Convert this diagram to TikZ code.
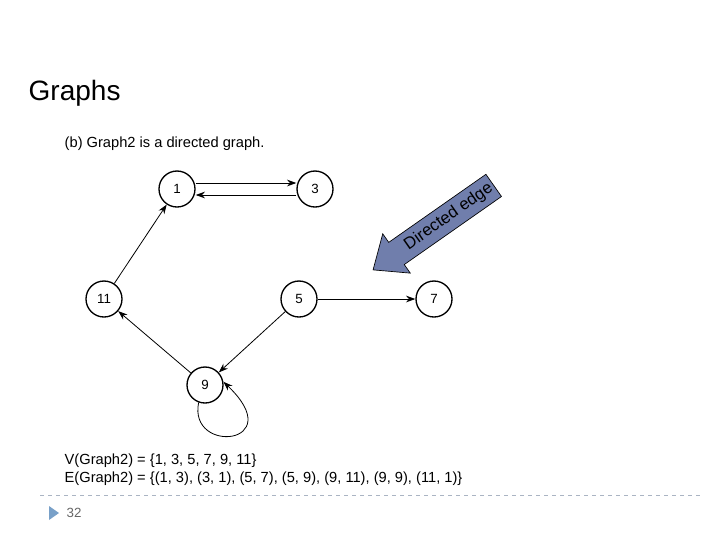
\documentclass[tikz,border=0pt]{standalone}
\usepackage{fontspec}
\setmainfont{Liberation Sans}
\usetikzlibrary{shapes.arrows,arrows.meta}
\begin{document}
\begin{tikzpicture}[x=0.75pt,y=-0.75pt,
  vtx/.style={circle,draw,line width=1pt,minimum size=27pt,inner sep=0pt,font=\fontsize{10}{12}\selectfont},
  edge/.style={-{Stealth[length=7pt,width=5pt]},line width=0.6pt},
  txt/.style={anchor=west,font=\fontsize{11}{13}\selectfont}]
\useasboundingbox (0,0) rectangle (720,540);
\node[anchor=west,font=\fontsize{21}{25}\selectfont] (title) at (24,93) {Graphs};
\node[txt] (cap) at (60,144) {(b) Graph2 is a directed graph.};
\node[vtx] (n1) at (177,189) {1};
\node[vtx] (n3) at (315,189) {3};
\node[vtx] (n11) at (104,299) {11};
\node[vtx] (n5) at (299,299) {5};
\node[vtx] (n7) at (434,299) {7};
\node[vtx] (n9) at (205,385) {9};
\draw[edge] ([yshift=4.5pt]n1.east) -- ([yshift=4.5pt]n3.west);
\draw[edge] ([yshift=-4.5pt]n3.west) -- ([yshift=-4.5pt]n1.east);
\draw[edge] (n11) -- (n1);
\draw[edge] (n5) -- (n7);
\draw[edge] (n5) -- (n9);
\draw[edge] (n9) -- (n11);
\draw[edge] (n9.250) .. controls (188,455) and (290,445) .. (n9.10);
\node[single arrow,draw=black,fill={rgb,255:red,112;green,126;blue,172},line width=0.5pt,
  shape border rotate=180,rotate=35,minimum height=106pt,minimum width=36pt,
  single arrow head extend=7pt,single arrow tip angle=80,inner xsep=2pt,inner ysep=3pt,
  font=\fontsize{12.5}{15}\selectfont] (da) at (440,223) {\hspace{16pt}Directed edge};
\node[txt] (v) at (60,461) {V(Graph2) = \{1, 3, 5, 7, 9, 11\}};
\node[txt] (e) at (60,479) {E(Graph2) = \{(1, 3), (3, 1), (5, 7), (5, 9), (9, 11), (9, 9), (11, 1)\}};
\draw[dashed,color={rgb,255:red,170;green,180;blue,195},line width=0.6pt] (40,495) -- (700,495);
\fill[color={rgb,255:red,120;green,160;blue,200}] (49,506) -- (59,513) -- (49,520) -- cycle;
\node[anchor=west,text=gray!80!black,font=\fontsize{10}{12}\selectfont] (pg) at (62,513) {32};
\end{tikzpicture}
\end{document}
